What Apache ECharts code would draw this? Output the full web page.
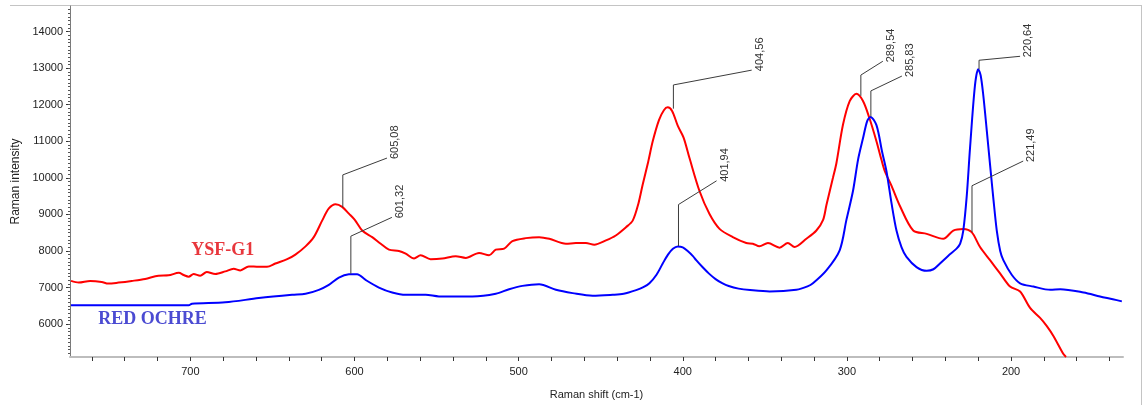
<!DOCTYPE html>
<html>
<head>
<meta charset="utf-8">
<script src="https://cdn.jsdelivr.net/npm/echarts@6/dist/echarts.min.js"></script>
<style>html,body{margin:0;padding:0;background:#fff;}#c{width:1146px;height:405px;}</style>
</head>
<body>
<div id="c"></div>
<script>
// ---- data (Raman shift cm-1, intensity) ----
const ysfShift = [772.7,768,761,754,750,743.7,735.7,727.5,719.4,713.3,707,704,701,698,694,690,684.8,678.7,673.6,669.5,664.4,658.3,653.3,648.2,641,636,629.8,624.8,619.7,615.6,611.5,607.5,603.4,599.8,595.3,589.2,584,579,572.9,568.8,563.7,559.7,553.6,546.5,538.3,532.2,524.1,518,513.9,508.8,503.8,495.6,487.5,481.3,471.2,465.1,459,453.9,446.8,440.8,434.6,430.5,427,424.4,421,418.3,414.5,411.5,409.2,406.5,403,399.5,395.9,389.8,383.7,377.6,369.5,361.3,357.3,353.3,348.1,341,336,331.9,324.7,318.6,314.5,312.5,308.5,306.4,302.4,298.3,294.2,290.2,286.2,282,279,276.9,272.8,267.7,259.6,251.4,241.3,235.2,229.1,224,218.9,212.8,206.7,200.6,194.5,188.4,182.3,178.2,174.2,168.1,166.5];
const ysfIntensity = [7181,7135,7180,7154,7108,7135,7180,7235,7324,7333,7405,7342,7297,7369,7324,7423,7369,7441,7514,7468,7577,7568,7568,7658,7775,7901,8126,8378,8829,9162,9279,9207,9020,8850,8559,8378,8198,8036,8000,7928,7793,7883,7775,7793,7856,7811,7946,7883,8036,8063,8270,8351,8378,8333,8198,8216,8216,8171,8288,8424,8649,8829,9300,9820,10450,11000,11580,11850,11930,11830,11420,11100,10541,9640,9009,8604,8378,8216,8198,8126,8216,8090,8216,8108,8333,8559,8850,9250,10000,10400,11450,12100,12297,12100,11622,11000,10500,10180,9780,9230,8559,8468,8333,8559,8603,8514,8108,7748,7387,7027,6892,6441,6171,5946,5676,5180,5100];

const ochreShift = [772.7,701,699,678.7,658.3,638,629.8,621.7,615.6,609.5,603.4,598.4,593.2,585.1,577,568.8,556.6,548.5,528.2,513.9,505.8,497.7,487.5,477.3,467.1,454.9,442.7,436,428.4,424,420.3,416,412.2,409,406,403,400,397,393.8,391.8,388,384,380,376,372,366,359,347.1,330.8,324,320.7,312.5,304.4,300.3,296.3,293.2,290.2,287.6,285.6,282,278.5,275.9,272.8,269.8,266.7,263.7,257.6,251.4,247.3,243.3,238.2,233.2,231,229.1,227,225,222,220,218.5,216.9,214.8,212.8,210.7,208.7,206.6,204.7,199.6,194.5,186.4,176.1,170,155.8,145.8,138,132.5];
const ochreIntensity = [6514,6514,6559,6595,6711,6802,6829,6937,7072,7270,7360,7365,7207,7000,6865,6802,6802,6757,6757,6829,6955,7045,7090,6937,6847,6775,6802,6830,6930,7010,7117,7350,7657,7900,8060,8125,8100,8000,7860,7748,7560,7380,7230,7120,7040,6970,6930,6892,6937,7030,7117,7470,8019,8850,9640,10500,11081,11560,11667,11441,10700,10180,9300,8559,8100,7838,7560,7459,7500,7658,7870,8063,8200,8559,9500,10811,12522,12973,12800,12252,11300,10360,9400,8559,8000,7748,7350,7117,7027,6937,6955,6865,6757,6680,6622];

const xTickLabels = [200,300,400,500,600,700];
const yTickLabels = [6000,7000,8000,9000,10000,11000,12000,13000,14000];

// peak annotations: label, leader foot (shift, intensity), elbow intensity, leader end (shift, intensity)
const peakLabels  = ['605,08','601,32','404,56','401,94','289,54','285,83','220,64','221,49'];
const peakShift   = [607.1, 602.2, 405.7, 402.6, 291.5, 285.4, 219.5, 223.8];
const peakFootI   = [9189, 7378, 11892, 8135, 12243, 11676, 12973, 8514];
const peakElbowI  = [10081, 8405, 12541, 9270, 12811, 12378, 13216, 9784];
const peakEndShift= [580.2, 577.2, 358.0, 379.4, 278.1, 266.5, 194.5, 192.6];
const peakEndI    = [10541, 8919, 12946, 9919, 13189, 12784, 13324, 10459];

const sampleNames = ['YSF-G1','RED OCHRE'];
const sampleShift = [680.3, 723.0];
const sampleI     = [8027, 6135];
const sampleColors = ['#e8363c', '#4b4bd2'];

// ---- chart ----
const zip = (a, b) => a.map((v, i) => [v, b[i]]);
const minorTicksX = []; for (let v = 140; v <= 760; v += 20) minorTicksX.push(v);
const minorTicksY = []; for (let v = 5200; v <= 14600; v += 100) minorTicksY.push(v);

const X_MIN = 131.8, X_MAX = 773.3, Y_MIN = 5100, Y_MAX = 14700;
const chart = echarts.init(document.getElementById('c'), null, {renderer: 'canvas'});
const labelFont = 'Liberation Sans';

chart.setOption({
  backgroundColor: '#ffffff',
  animation: false,
  grid: {left: 70, right: 23, top: 6, bottom: 44, containLabel: false},
  xAxis: {
    type: 'value', inverse: true, min: X_MIN, max: X_MAX,
    name: 'Raman shift (cm-1)', nameLocation: 'middle', nameGap: 32,
    nameTextStyle: {color: '#222', fontSize: 11, fontFamily: labelFont},
    axisLine: {show: true, lineStyle: {color: '#bdbdbd', width: 2}},
    axisTick: {show: true, customValues: minorTicksX, length: 4, lineStyle: {color: '#333', width: 1}},
    axisLabel: {customValues: xTickLabels, color: '#222', fontSize: 11, fontFamily: labelFont, margin: 9,
      formatter: v => String(v)},
    splitLine: {show: false}
  },
  yAxis: [{
    type: 'value', min: Y_MIN, max: Y_MAX,
    name: 'Raman intensity', nameLocation: 'middle', nameGap: 45, nameRotate: 90,
    nameTextStyle: {color: '#222', fontSize: 12, fontFamily: labelFont},
    axisLine: {show: true, lineStyle: {color: '#7a7a7a', width: 1}},
    axisTick: {show: true, customValues: yTickLabels, length: 4, lineStyle: {color: '#333'}},
    axisLabel: {customValues: yTickLabels, color: '#222', fontSize: 11, fontFamily: labelFont, margin: 7,
      formatter: v => String(v)},
    splitLine: {show: false}
  }, {
    type: 'value', min: Y_MIN, max: Y_MAX, position: 'left',
    axisLine: {show: false},
    axisTick: {show: true, customValues: minorTicksY, length: 2, lineStyle: {color: '#555'}},
    axisLabel: {show: false},
    splitLine: {show: false}
  }],
  series: [{
    name: 'YSF-G1', type: 'line', data: zip(ysfShift, ysfIntensity),
    showSymbol: false, smooth: 0.3, clip: true,
    lineStyle: {color: '#ff0000', width: 2}, itemStyle: {color: '#ff0000'}, z: 3
  }, {
    name: 'RED OCHRE', type: 'line', data: zip(ochreShift, ochreIntensity),
    showSymbol: false, smooth: 0.3, clip: true,
    lineStyle: {color: '#0000ff', width: 2}, itemStyle: {color: '#0000ff'}, z: 4
  }, {
    name: 'peaks', type: 'custom', silent: true, z: 5, clip: false,
    data: zip(peakShift, peakFootI),
    renderItem: function (params, api) {
      const i = params.dataIndex;
      const p0 = api.coord([peakShift[i], peakFootI[i]]);
      const p1 = api.coord([peakShift[i], peakElbowI[i]]);
      const p2 = api.coord([peakEndShift[i], peakEndI[i]]);
      return {type: 'group', children: [
        {type: 'polyline', shape: {points: [p0, p1, p2]}, style: {stroke: '#3c3c3c', lineWidth: 1, fill: 'none'}},
        {type: 'text', x: p2[0] + 8, y: p2[1] + 1, rotation: Math.PI / 2,
         style: {text: peakLabels[i], fill: '#333', font: '11px "Liberation Sans"', align: 'left', verticalAlign: 'middle'}}
      ]};
    }
  }, {
    name: 'names', type: 'custom', silent: true, z: 6, clip: false,
    data: zip(sampleShift, sampleI),
    renderItem: function (params, api) {
      const i = params.dataIndex;
      const p = api.coord([sampleShift[i], sampleI[i]]);
      return {type: 'text', x: p[0], y: p[1],
        style: {text: sampleNames[i], fill: sampleColors[i], font: 'bold 18px "Liberation Serif"', align: 'center', verticalAlign: 'middle'}};
    }
  }],
  graphic: [
    {type: 'line', shape: {x1: 10, y1: 5.5, x2: 1142, y2: 5.5}, style: {stroke: '#c4c4c4', lineWidth: 1}, silent: true},
    {type: 'line', shape: {x1: 1141.5, y1: 5, x2: 1141.5, y2: 405}, style: {stroke: '#c4c4c4', lineWidth: 1}, silent: true}
  ]
});
</script>
</body>
</html>
